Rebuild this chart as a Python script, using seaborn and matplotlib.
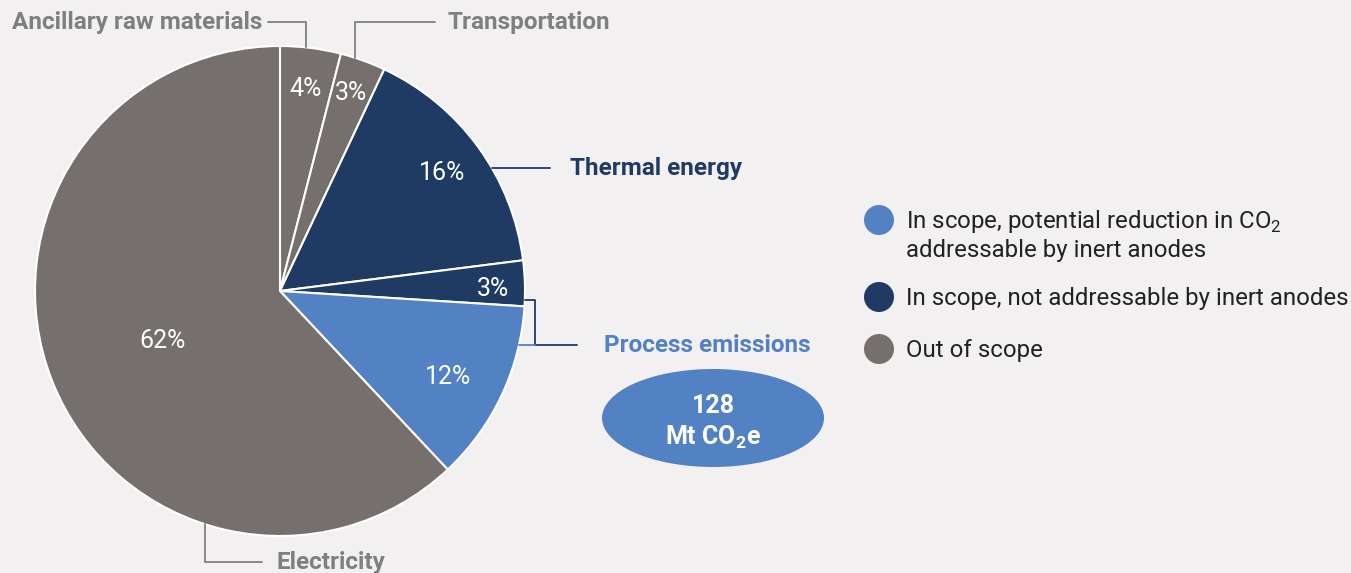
import numpy as np
import matplotlib
matplotlib.use("Agg")
import matplotlib.pyplot as plt
from matplotlib.patches import Ellipse, Circle
import seaborn as sns

# slices clockwise from 12 o'clock
segments = ["Ancillary raw materials", "Transportation", "Thermal energy",
            "Process (not addressable)", "Process emissions", "Electricity"]
shares = [4, 3, 16, 3, 12, 62]
scope = ["out", "out", "in_not", "in_not", "in_pot", "out"]

legend_labels = [["In scope, potential reduction in CO$_\\mathrm{2}$",
                  "addressable by inert anodes"],
                 ["In scope, not addressable by inert anodes"],
                 ["Out of scope"]]
legend_keys = ["in_pot", "in_not", "out"]

total_value = "128"
total_unit = "Mt CO$_\\mathbf{2}$e"

BG = "#f2f0f1"
colors = {"in_pot": "#5282c4", "in_not": "#1f3a63", "out": "#75706e"}
label_grey = "#7f7f7f"

sns.set_theme(style="white")
plt.rcParams["font.family"] = ["Roboto", "DejaVu Sans"]
plt.rcParams["mathtext.fontset"] = "custom"
plt.rcParams["mathtext.rm"] = "Roboto"
plt.rcParams["mathtext.bf"] = "Roboto:bold"

W, H = 1351, 573
fig = plt.figure(figsize=(W / 100, H / 100), dpi=100, facecolor=BG)
ax = fig.add_axes([0, 0, 1, 1])
ax.set_facecolor(BG)


def py(y):
    # pixel row (from top) -> data y
    return H - y


cx, cy, R = 280, py(291), 245

wedges, _ = ax.pie(shares, colors=[colors[s] for s in scope], startangle=90,
                   counterclock=False, center=(cx, cy), radius=R,
                   wedgeprops=dict(edgecolor="white", linewidth=1.5))

# percent labels
pct_dist = [0.83, 0.86, 0.82, 0.87, 0.77, 0.52]
pct_nudge = [0, 0, 0, -1.3, -1.8, 1.5]
for w, v, d, n in zip(wedges, shares, pct_dist, pct_nudge):
    a = np.deg2rad((w.theta1 + w.theta2) / 2 + n)
    ax.text(cx + R * d * np.cos(a), cy + R * d * np.sin(a), f"{v}%",
            color="white", fontsize=18, ha="center", va="center")


def edge(deg):
    a = np.deg2rad(deg)
    return cx + R * np.cos(a), cy + R * np.sin(a)


lw = 1.3
fs_lab = 17.5
# Ancillary raw materials
x0, y0 = edge(83.9)
ax.plot([x0, x0, 268], [y0, py(22), py(22)], color=label_grey, lw=lw)
ax.text(262, py(22), segments[0], color=label_grey, fontsize=fs_lab,
        fontweight="bold", ha="right", va="center")
# Transportation
x0, y0 = edge(72.2)
ax.plot([x0, x0, 435], [y0, py(22), py(22)], color=label_grey, lw=lw)
ax.text(448, py(22), segments[1], color=label_grey, fontsize=fs_lab,
        fontweight="bold", ha="left", va="center")
# Thermal energy
x0, y0 = edge(30.1)
ax.plot([x0, 550], [y0, y0], color=colors["in_not"], lw=lw)
ax.text(570, y0, segments[2], color=colors["in_not"], fontsize=fs_lab,
        fontweight="bold", ha="left", va="center")
# Process emissions (both in-scope process slices)
x0, y0 = edge(-2.1)
ax.plot([x0, 535, 535, 577], [y0, y0, py(345), py(345)],
        color=colors["in_not"], lw=lw)
x1, y1 = edge(-12.7)
ax.plot([x1, 535], [y1, y1], color=colors["in_pot"], lw=lw)
ax.text(604, py(345), segments[4], color=colors["in_pot"], fontsize=fs_lab,
        fontweight="bold", ha="left", va="center")
# Electricity
x0, y0 = edge(-107.8)
ax.plot([x0, x0, 262], [y0, py(562), py(562)], color=label_grey, lw=lw)
ax.text(276, py(562), segments[5], color=label_grey, fontsize=fs_lab,
        fontweight="bold", ha="left", va="center")

# total bubble
ax.add_patch(Ellipse((713, py(418)), 222, 98, color=colors["in_pot"], lw=0))
ax.text(713, py(406), total_value, color="white", fontsize=18,
        fontweight="bold", ha="center", va="center")
ax.text(713, py(445), total_unit, color="white", fontsize=18,
        fontweight="bold", ha="center", va="baseline")

# legend
leg_y = [220, 297, 349]
for key, lines, yy in zip(legend_keys, legend_labels, leg_y):
    ax.add_patch(Circle((879, py(yy)), 15, color=colors[key], lw=0))
    for i, line in enumerate(lines):
        ax.text(906, py(yy + 29 * i + 8), line, color="#222222",
                fontsize=17.3, ha="left", va="baseline")

ax.set_xlim(0, W)
ax.set_ylim(0, H)
ax.set_aspect("equal")
ax.axis("off")

fig.savefig("out.png", dpi=100, facecolor=BG)
